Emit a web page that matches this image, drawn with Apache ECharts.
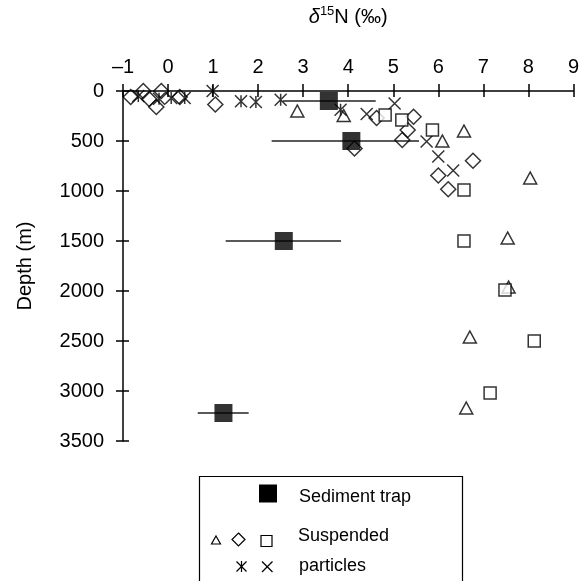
<!DOCTYPE html>
<html><head><meta charset="utf-8">
<script src="https://cdn.jsdelivr.net/npm/echarts@6/dist/echarts.min.js"></script>
<style>html,body{margin:0;padding:0;background:#fff}#c{width:582px;height:581px}</style>
</head><body><div id="c"></div>
<script>
// tick labels
const xTicks = [-1, 0, 1, 2, 3, 4, 5, 6, 7, 8, 9];
const xTickLabels = ['–1', '0', '1', '2', '3', '4', '5', '6', '7', '8', '9'];
const depthTicks = [0, 500, 1000, 1500, 2000, 2500, 3000, 3500];

// Sediment trap (filled squares with horizontal error bars)
const trapN     = [3.57, 4.07, 2.57, 1.23];
const trapDepth = [100, 500, 1500, 3220];
const trapLow   = [2.55, 2.30, 1.28, 0.66];
const trapHigh  = [4.61, 5.57, 3.84, 1.79];

// Suspended particles
const triN     = [2.87, 3.90, 6.09, 6.57, 8.04, 7.54, 7.56, 6.70, 6.62];
const triDepth = [200, 245, 500, 400, 870, 1470, 1960, 2460, 3170];

const diaN     = [-0.83, -0.55, -0.42, -0.26, -0.15, 0.26, 1.05, 4.63, 5.45, 5.32, 5.20, 4.14, 6.77, 6.00, 6.22];
const diaDepth = [60, 0, 80, 160, 0, 60, 135, 270, 257, 390, 490, 575, 697, 845, 983];

const sqN      = [4.82, 5.19, 5.87, 6.57, 6.57, 7.48, 8.13, 7.15];
const sqDepth  = [240, 290, 390, 990, 1500, 1990, 2500, 3020];

const astN     = [-0.66, -0.20, 0.07, 0.37, 0.99, 1.62, 1.95, 2.50, 3.83];
const astDepth = [50, 77, 70, 70, 0, 103, 110, 87, 187];

const crsN     = [4.41, 5.03, 5.74, 6.00, 6.33];
const crsDepth = [230, 125, 505, 655, 795];

const zip = (a, b) => a.map((v, i) => [v, b[i]]);
const FONT = '"Liberation Sans", Arial, Helvetica, sans-serif';
const INK = '#000';

const ASTERISK = 'path://M0,0L10,10M10,0L0,10M5,0L5,10';
const CROSS = 'path://M0,0L10,10M10,0L0,10';

const hollow = (fill) => ({ color: fill, borderColor: INK, borderWidth: 1.5 });

const chart = echarts.init(document.getElementById('c'), null, { renderer: 'canvas' });

const xBase = { type: 'value', min: -1, max: 9, interval: 1, position: 'top', gridIndex: 0, splitLine: { show: false } };
const yBase = { type: 'value', min: 0, max: 3500, interval: 500, inverse: true, position: 'left', gridIndex: 0, splitLine: { show: false } };

const L = (x1, y1, x2, y2) => ({ type: 'line', z: 101, shape: { x1, y1, x2, y2 }, style: { stroke: INK, lineWidth: 1.2 } });

chart.setOption({
  animation: false,
  backgroundColor: '#fff',
  grid: { left: 123, top: 91, width: 453, height: 350, containLabel: false },
  xAxis: [
    Object.assign({}, xBase, {
      name: '{a|δ}{b|15}{c|N (‰)}',
      nameLocation: 'middle',
      nameGap: 62,
      nameTextStyle: {
        rich: {
          a: { fontFamily: FONT, fontSize: 20, fontStyle: 'italic', color: INK, lineHeight: 24 },
          b: { fontFamily: FONT, fontSize: 13, color: INK, verticalAlign: 'top', lineHeight: 14 },
          c: { fontFamily: FONT, fontSize: 20, color: INK, lineHeight: 24 }
        }
      },
      axisLine: { show: true, onZero: false, lineStyle: { color: INK, width: 1.5 } },
      axisTick: { show: true, inside: false, length: 7, lineStyle: { color: INK, width: 1.5 } },
      axisLabel: {
        show: true, margin: 14, fontFamily: FONT, fontSize: 20, color: INK,
        formatter: (v) => { const i = xTicks.indexOf(v); return i >= 0 ? xTickLabels[i] : ''; }
      }
    }),
    Object.assign({}, xBase, {
      axisLine: { show: false, onZero: false },
      axisTick: { show: true, inside: true, length: 6, lineStyle: { color: INK, width: 1.5 } },
      axisLabel: { show: false }
    })
  ],
  yAxis: [
    Object.assign({}, yBase, {
      name: 'Depth (m)',
      nameLocation: 'middle',
      nameGap: 88,
      nameRotate: 90,
      nameTextStyle: { fontFamily: FONT, fontSize: 20, color: INK },
      axisLine: { show: true, onZero: false, lineStyle: { color: INK, width: 1.5 } },
      axisTick: { show: true, inside: false, length: 7, lineStyle: { color: INK, width: 1.5 } },
      axisLabel: {
        show: true, margin: 19, fontFamily: FONT, fontSize: 20, color: INK,
        formatter: (v) => depthTicks.indexOf(v) >= 0 ? String(v) : ''
      }
    }),
    Object.assign({}, yBase, {
      axisLine: { show: false, onZero: false },
      axisTick: { show: true, inside: true, length: 6, lineStyle: { color: INK, width: 1.5 } },
      axisLabel: { show: false }
    })
  ],
  series: [
    {
      name: 'Sediment trap error', type: 'custom', xAxisIndex: 0, yAxisIndex: 0, silent: true,
      data: trapDepth.map((d, i) => [trapLow[i], trapHigh[i], d]),
      encode: { x: [0, 1], y: 2 },
      renderItem: (params, api) => {
        const a = api.coord([api.value(0), api.value(2)]);
        const b = api.coord([api.value(1), api.value(2)]);
        return { type: 'line', shape: { x1: a[0], y1: a[1], x2: b[0], y2: b[1] }, style: { stroke: '#222', lineWidth: 1.4 } };
      }
    },
    { name: 'triangle', type: 'scatter', xAxisIndex: 0, yAxisIndex: 0, data: zip(triN, triDepth),
      symbol: 'triangle', symbolSize: [13, 12], itemStyle: hollow('rgba(0,0,0,0)') },
    { name: 'diamond', type: 'scatter', xAxisIndex: 0, yAxisIndex: 0, data: zip(diaN, diaDepth),
      symbol: 'diamond', symbolSize: [15, 15], itemStyle: hollow('rgba(0,0,0,0)') },
    { name: 'cross', type: 'scatter', xAxisIndex: 0, yAxisIndex: 0, data: zip(crsN, crsDepth),
      symbol: CROSS, symbolSize: 12, itemStyle: hollow('rgba(0,0,0,0)') },
    { name: 'asterisk', type: 'scatter', xAxisIndex: 0, yAxisIndex: 0, data: zip(astN, astDepth),
      symbol: ASTERISK, symbolSize: 12, itemStyle: hollow('rgba(0,0,0,0)') },
    { name: 'square', type: 'scatter', xAxisIndex: 0, yAxisIndex: 0, data: zip(sqN, sqDepth),
      symbol: 'rect', symbolSize: 12, itemStyle: hollow('#fff') },
    { name: 'Sediment trap', type: 'scatter', xAxisIndex: 0, yAxisIndex: 0, data: zip(trapN, trapDepth),
      symbol: 'rect', symbolSize: 18, itemStyle: { color: INK } }
  ],
  graphic: [
    { type: 'rect', shape: { x: 199.5, y: 476.5, width: 263, height: 120 }, style: { fill: '#fff', stroke: INK, lineWidth: 1.2 }, z: 100 },
    { type: 'rect', shape: { x: 259, y: 484.5, width: 18, height: 18 }, style: { fill: INK }, z: 101 },
    { type: 'text', x: 299, y: 497, z: 101, style: { text: 'Sediment trap', font: '18px ' + FONT, fill: INK, verticalAlign: 'middle', textVerticalAlign: 'middle' } },
    { type: 'polygon', shape: { points: [[216, 536], [220.5, 544], [211.5, 544]] }, style: { fill: 'none', stroke: INK, lineWidth: 1.2 }, z: 101 },
    { type: 'polygon', shape: { points: [[238.5, 533], [245, 539.5], [238.5, 546], [232, 539.5]] }, style: { fill: 'none', stroke: INK, lineWidth: 1.2 }, z: 101 },
    { type: 'rect', shape: { x: 261, y: 535.5, width: 11, height: 11 }, style: { fill: 'none', stroke: INK, lineWidth: 1.2 }, z: 101 },
    { type: 'text', x: 298, y: 536, z: 101, style: { text: 'Suspended', font: '18px ' + FONT, fill: INK, verticalAlign: 'middle', textVerticalAlign: 'middle' } },
    L(236.5, 561.5, 246.5, 571.5), L(246.5, 561.5, 236.5, 571.5), L(241.5, 561, 241.5, 572),
    L(262, 561.5, 272.5, 572), L(272.5, 561.5, 262, 572),
    { type: 'text', x: 299, y: 566, z: 101, style: { text: 'particles', font: '18px ' + FONT, fill: INK, verticalAlign: 'middle', textVerticalAlign: 'middle' } }
  ]
});
</script>
</body></html>
